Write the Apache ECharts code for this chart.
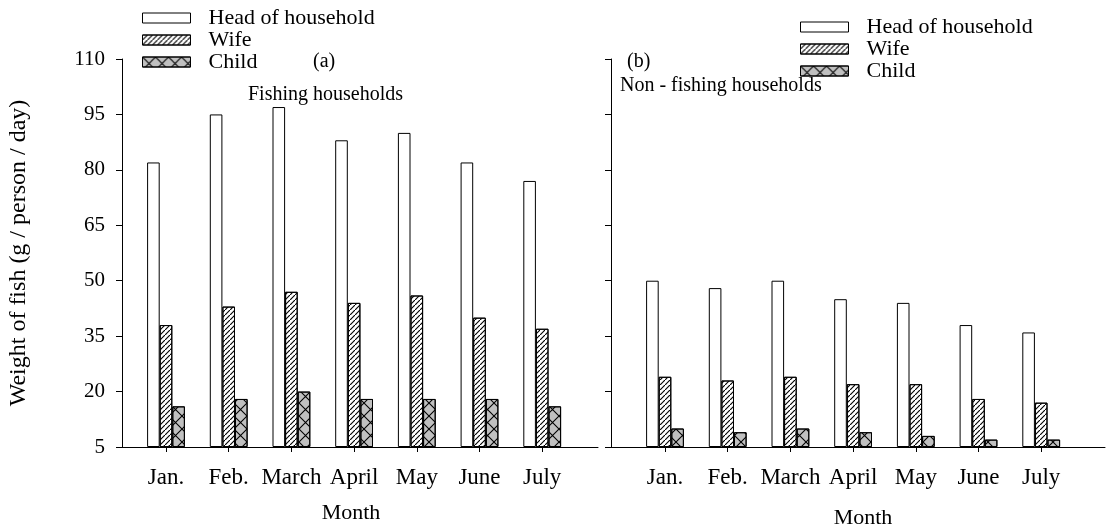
<!DOCTYPE html>
<html>
<head>
<meta charset="utf-8">
<script src="https://cdn.jsdelivr.net/npm/echarts@6/dist/echarts.min.js"></script>
<style>
  html, body { margin: 0; padding: 0; background: #fff; }
  #chart { width: 1111px; height: 532px; }
</style>
</head>
<body>
<div id="chart"></div>
<script>
// data
const months = ['Jan.', 'Feb.', 'March', 'April', 'May', 'June', 'July'];
const fishHead = [82, 95, 97, 88, 90, 82, 77];
const fishWife = [38, 43, 47, 44, 46, 40, 37];
const fishChild = [16, 18, 20, 18, 18, 18, 16];
const nonHead = [50, 48, 50, 45, 44, 38, 36];
const nonWife = [24, 23, 24, 22, 22, 18, 17];
const nonChild = [10, 9, 10, 9, 8, 7, 7];
const names = ['Head of household', 'Wife', 'Child'];
const yMin = 5, yMax = 110, yStep = 15;

const font = 'Liberation Serif';
const gridTop = 59, gridBottom = 85;
const band = 62.7;

// hatch patterns
const wifeDecal = {
    symbol: 'path://M0,8.4 L8.4,0 L10,0 L10,1.6 L1.6,10 L0,10 Z',
    symbolSize: 1,
    dashArrayX: [4.5, 0],
    dashArrayY: [4.5, 0],
    color: '#000'
};
const childDecal = {
    symbol: 'path://M0,0 L0.6,0 L10,9.4 L10,10 L9.4,10 L0,0.6 Z M9.4,0 L10,0 L10,0.6 L0.6,10 L0,10 L0,9.4 Z',
    symbolSize: 1,
    dashArrayX: [12.6, 0],
    dashArrayY: [13, 0],
    color: '#000'
};

function frameX(idx, nameGap, namePad) {
    return {
        type: 'value', gridIndex: idx, min: 0, max: 1,
        axisLine: {show: true, lineStyle: {color: '#000', width: 1}},
        axisTick: {show: false}, axisLabel: {show: false}, splitLine: {show: false},
        name: 'Month', nameLocation: 'middle', nameGap: nameGap,
        nameTextStyle: {fontFamily: font, fontSize: 22, color: '#000', padding: namePad}
    };
}

function barX(idx) {
    return {
        type: 'category', gridIndex: idx, data: months,
        axisLine: {show: false},
        axisTick: {show: true, alignWithLabel: true, interval: 0, length: 5, lineStyle: {color: '#000'}},
        axisLabel: {interval: 0, fontFamily: font, fontSize: 23, color: '#000', margin: 19}
    };
}

function frameY(idx, labels) {
    return {
        type: 'value', gridIndex: idx, min: yMin, max: yMax, interval: yStep,
        axisLine: {show: true, lineStyle: {color: '#000', width: 1}},
        axisTick: {show: true, length: 6, lineStyle: {color: '#000'}},
        axisLabel: {show: labels, fontFamily: font, fontSize: 21, color: '#000', margin: 17},
        splitLine: {show: false},
        name: labels ? 'Weight of fish (g / person / day)' : '',
        nameLocation: 'middle', nameGap: 91,
        nameTextStyle: {fontFamily: font, fontSize: 24, color: '#000'}
    };
}

function barY(idx) {
    return {
        type: 'value', gridIndex: idx, min: yMin, max: yMax, startValue: yMin, show: false
    };
}

function bar(name, data, axis, color, decal) {
    return {
        type: 'bar', name: name, data: data,
        xAxisIndex: axis, yAxisIndex: axis,
        barWidth: 12.6, barGap: '0%', clip: true,
        itemStyle: {color: color, borderColor: '#000', borderWidth: 1, decal: decal},
        emphasis: {disabled: true}
    };
}

function legend(left, topPos) {
    return {
        data: names, orient: 'vertical', left: left, top: topPos,
        icon: 'rect', itemWidth: 48, itemHeight: 10, itemGap: 0,
        selectedMode: false, padding: 0,
        itemStyle: {borderColor: '#000', borderWidth: 1},
        textStyle: {fontFamily: font, fontSize: 22, color: '#000', lineHeight: 22, padding: [0, 0, 0, 13]}
    };
}

function label(text, left, topPos) {
    return {
        text: text, left: left, top: topPos, padding: 0,
        textStyle: {fontFamily: font, fontSize: 20, fontWeight: 'normal', color: '#000'}
    };
}

let myChart = echarts.init(document.getElementById('chart'));
myChart.setOption({
    backgroundColor: '#fff',
    animation: false,
    title: [
        label('(a)', 313, 52),
        label('Fishing households', 248, 85),
        label('(b)', 627, 52),
        label('Non - fishing households', 620, 76)
    ],
    legend: [legend(142, 7), legend(800, 16)],
    grid: [
        {left: 122, width: 476, top: gridTop, bottom: gridBottom, outerBoundsMode: 'none'},
        {left: 166 - band / 2, width: band * 7, top: gridTop, bottom: gridBottom, outerBoundsMode: 'none'},
        {left: 611, width: 494, top: gridTop, bottom: gridBottom, outerBoundsMode: 'none'},
        {left: 665 - band / 2, width: band * 7, top: gridTop, bottom: gridBottom, outerBoundsMode: 'none'}
    ],
    xAxis: [frameX(0, 55, [0, 18, 0, 0]), barX(1), frameX(2, 60, [0, 0, 0, 10]), barX(3)],
    yAxis: [frameY(0, true), barY(1), frameY(2, false), barY(3)],
    series: [
        bar(names[0], fishHead, 1, '#fff', null),
        bar(names[1], fishWife, 1, '#fff', wifeDecal),
        bar(names[2], fishChild, 1, '#c0c0c0', childDecal),
        bar(names[0], nonHead, 3, '#fff', null),
        bar(names[1], nonWife, 3, '#fff', wifeDecal),
        bar(names[2], nonChild, 3, '#c0c0c0', childDecal)
    ]
});
</script>
</body>
</html>
